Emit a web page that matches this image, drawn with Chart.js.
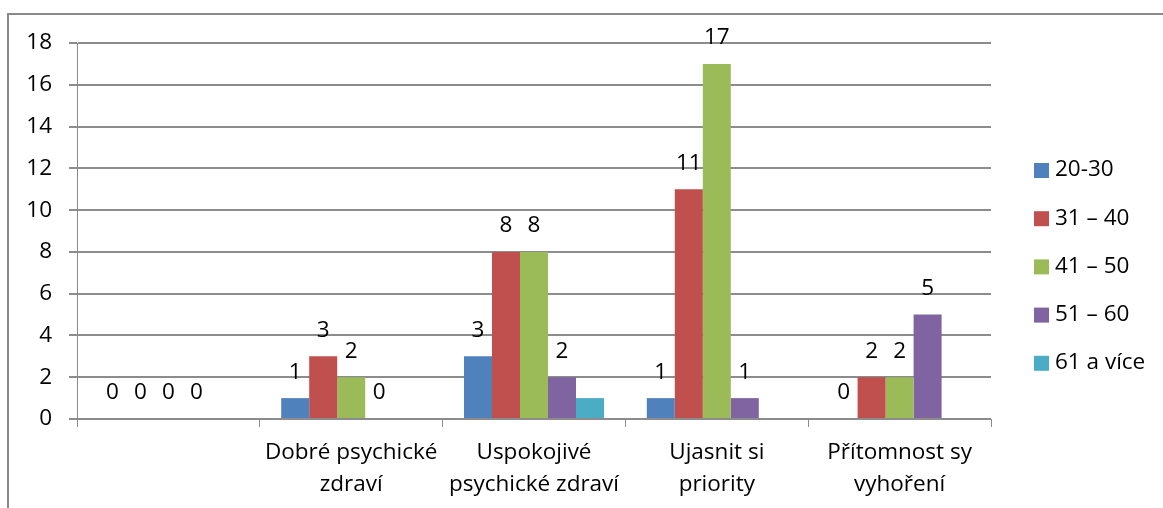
<!DOCTYPE html>
<html>
<head>
<meta charset="utf-8">
<script src="https://cdn.jsdelivr.net/npm/chart.js@4"></script>
<style>
    html, body { margin: 0; padding: 0; background: #fff; overflow: hidden; }
    #obal { position: relative; width: 1163px; height: 508px; }
    #ramecek { position: absolute; left: 7px; top: 13px; width: 1200px; height: 600px;
               border-left: 2px solid #8a8a8a; border-top: 2px solid #8a8a8a; }
    canvas { position: absolute; left: 0; top: 0; }
</style>
</head>
<body>
<div id="obal">
    <div id="ramecek"></div>
    <canvas id="graf" width="1163" height="508"></canvas>
</div>
<script>
// kategorie a hodnoty podle vekovych skupin
const kategorie = ['', ['Dobré psychické', 'zdraví'], ['Uspokojivé', 'psychické zdraví'], ['Ujasnit si', 'priority'], ['Přítomnost sy', 'vyhoření']];
const skupiny = ['20-30', '31 – 40', '41 – 50', '51 – 60', '61 a více'];
const vek_20_30 = [0, 1, 3, 1, 0];
const vek_31_40 = [0, 3, 8, 11, 2];
const vek_41_50 = [0, 2, 8, 17, 2];
const vek_51_60 = [0, 0, 2, 1, 5];
const vek_61 = [null, null, 1, null, null];
const osa_y = [0, 2, 4, 6, 8, 10, 12, 14, 16, 18];

const barvy = ['#4F81BD', '#C0504D', '#9BBB59', '#8064A2', '#4BACC6'];
const pismo = '"Open Sans", Lato, sans-serif';
const velikost = 22.5;
const seda = '#8c8c8c';

function dataset(i, hodnoty, popisky) {
    return {
        label: skupiny[i],
        data: hodnoty,
        backgroundColor: barvy[i],
        borderWidth: 0,
        barPercentage: 1,
        categoryPercentage: 0.766,
        popisky: popisky
    };
}

// hodnoty nad sloupci
const popiskyPlugin = {
    id: 'popisky',
    afterDatasetsDraw(chart) {
        const ctx = chart.ctx;
        ctx.save();
        ctx.font = velikost + 'px ' + pismo;
        ctx.fillStyle = '#000';
        ctx.textAlign = 'center';
        ctx.textBaseline = 'middle';
        chart.data.datasets.forEach((ds, i) => {
            if (!ds.popisky) return;
            chart.getDatasetMeta(i).data.forEach((bar, j) => {
                if (ds.data[j] === null) return;
                ctx.fillText(String(ds.data[j]), bar.x, bar.y - 26);
            });
        });
        ctx.restore();
    }
};

// legenda vpravo
const legendaPlugin = {
    id: 'legenda',
    afterDraw(chart) {
        const ctx = chart.ctx;
        ctx.save();
        ctx.font = velikost + 'px ' + pismo;
        ctx.textBaseline = 'middle';
        ctx.textAlign = 'left';
        chart.data.datasets.forEach((ds, i) => {
            const y = 170 + i * 48.2;
            ctx.fillStyle = ds.backgroundColor;
            ctx.fillRect(1034, y - 7, 15, 15);
            ctx.fillStyle = '#000';
            ctx.fillText(ds.label, 1055, y);
        });
        ctx.restore();
    }
};

const ctx = document.getElementById('graf').getContext('2d');
const graf = new Chart(ctx, {
    type: 'bar',
    data: {
        labels: kategorie,
        datasets: [
            dataset(0, vek_20_30, true),
            dataset(1, vek_31_40, true),
            dataset(2, vek_41_50, true),
            dataset(3, vek_51_60, true),
            dataset(4, vek_61, false)
        ]
    },
    options: {
        responsive: false,
        animation: false,
        layout: { padding: { left: 0, top: 43, right: 172, bottom: 0 } },
        plugins: {
            legend: { display: false },
            tooltip: { enabled: false }
        },
        scales: {
            x: {
                afterFit: function(scale) { scale.height = 89; },
                grid: { display: true, drawOnChartArea: false, drawTicks: true, tickLength: 8, color: seda, offset: true },
                border: { color: seda, width: 1 },
                ticks: { color: '#000', font: { family: pismo, size: velikost, lineHeight: 1.45 }, padding: 9, maxRotation: 0, autoSkip: false }
            },
            y: {
                min: 0,
                max: 18,
                afterFit: function(scale) { scale.width = 77; },
                afterBuildTicks: function(scale) { scale.ticks = osa_y.map(v => ({ value: v })); },
                grid: { color: seda, lineWidth: 2, tickLength: 8 },
                border: { color: seda, width: 1 },
                ticks: { color: '#000', font: { family: pismo, size: velikost }, padding: 17 }
            }
        }
    },
    plugins: [popiskyPlugin, legendaPlugin]
});
</script>
</body>
</html>
